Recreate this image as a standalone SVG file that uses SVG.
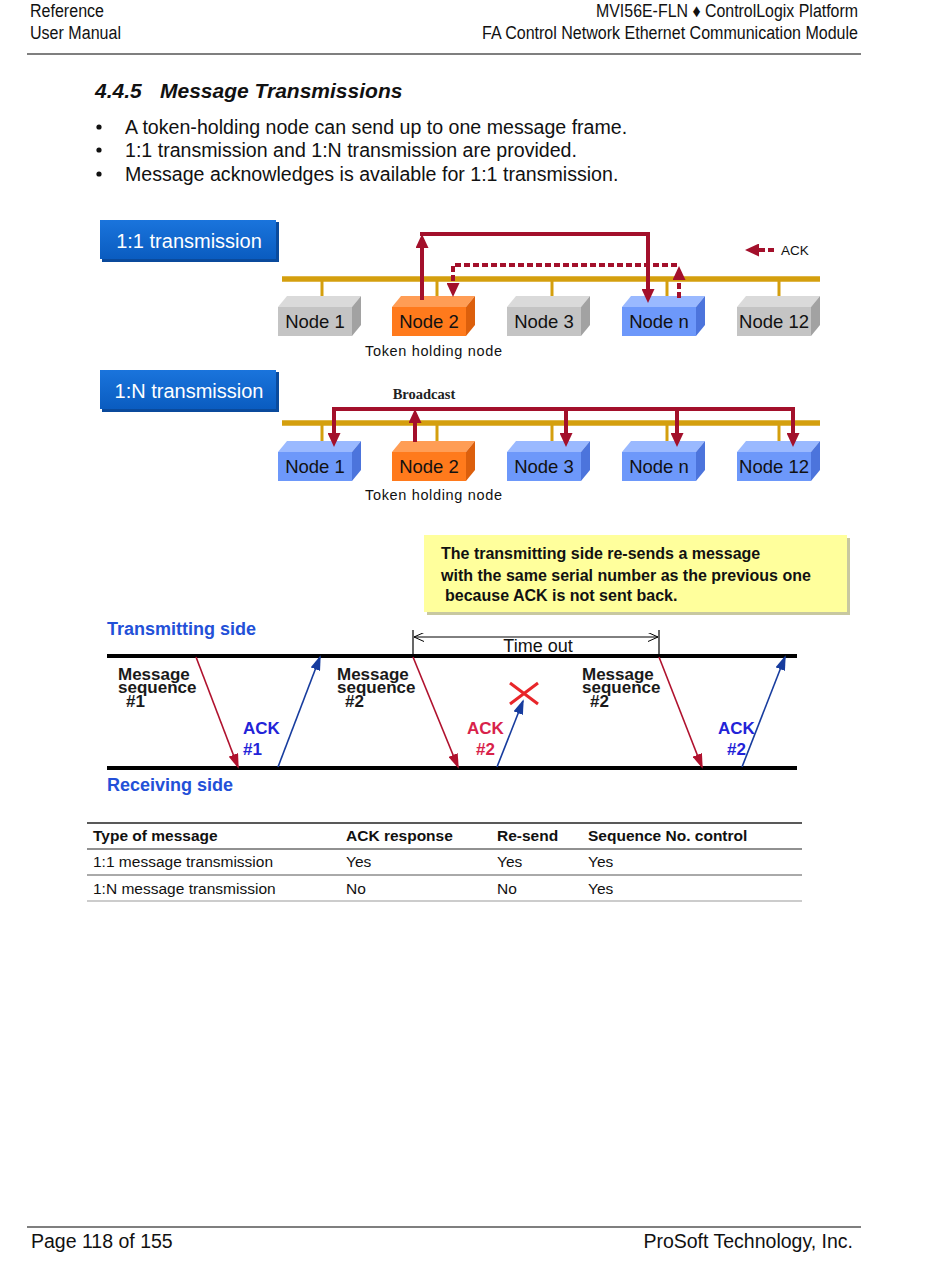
<svg xmlns="http://www.w3.org/2000/svg" width="950" height="1267" viewBox="0 0 950 1267">
<style>
.hdr{font-family:"Liberation Sans",Arial,sans-serif;font-size:18px;fill:#111}
.body{font-family:"Liberation Sans",Arial,sans-serif;fill:#111}
.title{font-size:21px;font-weight:bold;font-style:italic}
.bullet{font-size:19.6px}
.tag{font-family:"Liberation Sans",Arial,sans-serif;font-size:20px;fill:#fff}
.nodetxt{font-family:"Liberation Sans",Arial,sans-serif;font-size:18.5px;fill:#111;text-anchor:middle}
.small{font-family:"Liberation Sans",Arial,sans-serif;font-size:14.5px;fill:#111}
.bus{stroke:#d49f0e;stroke-width:5.5;fill:none}
.stub{stroke:#d49f0e;stroke-width:3;fill:none}
.red{stroke:#a3102b;stroke-width:4;fill:none}
.reddot{stroke:#a3102b;stroke-width:4;fill:none;stroke-dasharray:6 3}
.gF{fill:#c4c4c4}.gT{fill:#dadada}.gS{fill:#a2a2a2}
.oF{fill:#ff7a1c}.oT{fill:#ff9d55}.oS{fill:#dc5f0c}
.bF{fill:#6d98fa}.bT{fill:#9ab9ff}.bS{fill:#4c74dc}
.lbl{font-family:"Liberation Sans",Arial,sans-serif;font-weight:bold;font-size:17px}
.side{font-family:"Liberation Sans",Arial,sans-serif;font-weight:bold;font-size:18px;fill:#2350d8}
.tl{stroke:#000;stroke-width:4}
.tr{stroke:#b0122e;stroke-width:1.6;fill:none}
.tb{stroke:#173c9e;stroke-width:1.6;fill:none}
.th{font-family:"Liberation Sans",Arial,sans-serif;font-weight:bold;font-size:15.5px;fill:#111}
.td{font-family:"Liberation Sans",Arial,sans-serif;font-size:15.5px;fill:#111}
</style>
<defs>
<marker id="ahRed" markerUnits="userSpaceOnUse" markerWidth="14" markerHeight="13" refX="8" refY="6.5" orient="auto"><path d="M0,0 L14,6.5 L0,13 z" fill="#a3102b"/></marker>
<marker id="ahThinRed" markerUnits="userSpaceOnUse" markerWidth="15" markerHeight="10" refX="13" refY="5" orient="auto"><path d="M0,0 L15,5 L0,10 z" fill="#b0122e"/></marker>
<marker id="ahThinBlue" markerUnits="userSpaceOnUse" markerWidth="15" markerHeight="10" refX="13" refY="5" orient="auto"><path d="M0,0 L15,5 L0,10 z" fill="#173c9e"/></marker>
<marker id="ahOpen" markerUnits="userSpaceOnUse" markerWidth="11" markerHeight="9" refX="10" refY="4.5" orient="auto-start-reverse"><path d="M0,0 L10,4.5 L0,9" fill="none" stroke="#000" stroke-width="1"/></marker>
<linearGradient id="tagGrad" x1="0" y1="0" x2="0" y2="1"><stop offset="0" stop-color="#1a74dc"/><stop offset="1" stop-color="#0a5cc0"/></linearGradient>
</defs>

<!-- page header -->
<g id="header">
<text class="hdr" x="30" y="17" textLength="74" lengthAdjust="spacingAndGlyphs">Reference</text>
<text class="hdr" x="30" y="39" textLength="91" lengthAdjust="spacingAndGlyphs">User Manual</text>
<text class="hdr" x="596" y="17" textLength="262" lengthAdjust="spacingAndGlyphs">MVI56E-FLN ♦ ControlLogix Platform</text>
<text class="hdr" x="482" y="39" textLength="376" lengthAdjust="spacingAndGlyphs">FA Control Network Ethernet Communication Module</text>
<line x1="27" y1="54" x2="861" y2="54" stroke="#000" stroke-width="1.2"/>
</g>

<g id="intro" class="body">
<text class="title" x="95" y="98">4.4.5</text>
<text class="title" x="160" y="98">Message Transmissions</text>
<circle cx="99" cy="127" r="2.6" fill="#111"/>
<circle cx="99" cy="150" r="2.6" fill="#111"/>
<circle cx="99" cy="174" r="2.6" fill="#111"/>
<text class="bullet" x="125" y="134">A token-holding node can send up to one message frame.</text>
<text class="bullet" x="125" y="157">1:1 transmission and 1:N transmission are provided.</text>
<text class="bullet" x="125" y="181">Message acknowledges is available for 1:1 transmission.</text>
</g>

<!-- 1:1 transmission -->
<g id="tag11">
<rect x="102" y="222" width="177" height="40" fill="#0a4a9c"/>
<rect x="100" y="220" width="176" height="39" fill="url(#tagGrad)"/>
<text class="tag" x="189" y="248" text-anchor="middle">1:1 transmission</text>
</g>

<g id="bus11">
<line class="bus" x1="282" y1="279" x2="820" y2="279"/>
<line class="stub" x1="322" y1="279" x2="322" y2="299"/>
<line class="stub" x1="437" y1="279" x2="437" y2="299"/>
<line class="stub" x1="552" y1="279" x2="552" y2="299"/>
<line class="stub" x1="667" y1="279" x2="667" y2="299"/>
<line class="stub" x1="779" y1="279" x2="779" y2="299"/>
</g>

<g id="n11-1"><polygon class="gT" points="278,307 287,296 361,296 352,307"/><polygon class="gS" points="352,307 361,296 361,325 352,336"/><rect class="gF" x="278" y="307" width="74" height="29"/><text class="nodetxt" x="315" y="328">Node 1</text></g>
<g id="n11-2"><polygon class="oT" points="392,307 401,296 475,296 466,307"/><polygon class="oS" points="466,307 475,296 475,325 466,336"/><rect class="oF" x="392" y="307" width="74" height="29"/><text class="nodetxt" x="429" y="328">Node 2</text></g>
<g id="n11-3"><polygon class="gT" points="507,307 516,296 590,296 581,307"/><polygon class="gS" points="581,307 590,296 590,325 581,336"/><rect class="gF" x="507" y="307" width="74" height="29"/><text class="nodetxt" x="544" y="328">Node 3</text></g>
<g id="n11-n"><polygon class="bT" points="622,307 631,296 705,296 696,307"/><polygon class="bS" points="696,307 705,296 705,325 696,336"/><rect class="bF" x="622" y="307" width="74" height="29"/><text class="nodetxt" x="659" y="328">Node n</text></g>
<g id="n11-12"><polygon class="gT" points="737,307 746,296 820,296 811,307"/><polygon class="gS" points="811,307 820,296 820,325 811,336"/><rect class="gF" x="737" y="307" width="74" height="29"/><text class="nodetxt" x="774" y="328">Node 12</text></g>

<text id="token11" class="small" x="365" y="356" textLength="137">Token holding node</text>

<g id="conn11">
<line class="red" x1="422" y1="300" x2="422" y2="240" marker-end="url(#ahRed)"/>
<path class="red" d="M420,234 H648 V297" marker-end="url(#ahRed)"/>
<line class="reddot" x1="679" y1="298" x2="679" y2="272" marker-end="url(#ahRed)"/>
<path class="reddot" d="M677,265 H453 V291" marker-end="url(#ahRed)"/>
</g>

<g id="acklegend">
<line class="reddot" x1="774" y1="250" x2="751" y2="250" marker-end="url(#ahRed)"/>
<text class="small" x="781" y="255" style="font-size:13.5px">ACK</text>
</g>

<!-- 1:N transmission -->
<g id="tag1n">
<rect x="102" y="372" width="177" height="40" fill="#0a4a9c"/>
<rect x="100" y="370" width="176" height="39" fill="url(#tagGrad)"/>
<text class="tag" x="189" y="398" text-anchor="middle">1:N transmission</text>
</g>

<text id="bcast" x="424" y="399" text-anchor="middle" style="font-family:'Liberation Serif','Times New Roman',serif;font-weight:bold;font-size:14.5px;fill:#222">Broadcast</text>

<g id="bus1n">
<line class="bus" x1="282" y1="423" x2="820" y2="423"/>
<line class="stub" x1="322" y1="423" x2="322" y2="444"/>
<line class="stub" x1="437" y1="423" x2="437" y2="444"/>
<line class="stub" x1="552" y1="423" x2="552" y2="444"/>
<line class="stub" x1="667" y1="423" x2="667" y2="444"/>
<line class="stub" x1="779" y1="423" x2="779" y2="444"/>
</g>

<g id="n1n-1"><polygon class="bT" points="278,452 287,441 361,441 352,452"/><polygon class="bS" points="352,452 361,441 361,470 352,481"/><rect class="bF" x="278" y="452" width="74" height="29"/><text class="nodetxt" x="315" y="473">Node 1</text></g>
<g id="n1n-2"><polygon class="oT" points="392,452 401,441 475,441 466,452"/><polygon class="oS" points="466,452 475,441 475,470 466,481"/><rect class="oF" x="392" y="452" width="74" height="29"/><text class="nodetxt" x="429" y="473">Node 2</text></g>
<g id="n1n-3"><polygon class="bT" points="507,452 516,441 590,441 581,452"/><polygon class="bS" points="581,452 590,441 590,470 581,481"/><rect class="bF" x="507" y="452" width="74" height="29"/><text class="nodetxt" x="544" y="473">Node 3</text></g>
<g id="n1n-n"><polygon class="bT" points="622,452 631,441 705,441 696,452"/><polygon class="bS" points="696,452 705,441 705,470 696,481"/><rect class="bF" x="622" y="452" width="74" height="29"/><text class="nodetxt" x="659" y="473">Node n</text></g>
<g id="n1n-12"><polygon class="bT" points="737,452 746,441 820,441 811,452"/><polygon class="bS" points="811,452 820,441 820,470 811,481"/><rect class="bF" x="737" y="452" width="74" height="29"/><text class="nodetxt" x="774" y="473">Node 12</text></g>

<text id="token1n" class="small" x="365" y="500" textLength="137">Token holding node</text>

<g id="conn1n">
<line class="red" x1="415" y1="442" x2="415" y2="415" marker-end="url(#ahRed)"/>
<path class="red" d="M334,441 V409 H793 V441" marker-end="url(#ahRed)"/>
<line class="red" x1="334" y1="420" x2="334" y2="441" marker-end="url(#ahRed)"/>
<line class="red" x1="566" y1="409" x2="566" y2="441" marker-end="url(#ahRed)"/>
<line class="red" x1="677" y1="409" x2="677" y2="441" marker-end="url(#ahRed)"/>
</g>

<!-- timing diagram -->
<g id="note">
<rect x="427" y="538" width="423" height="77" fill="#c8c8a0"/>
<rect x="424" y="535" width="423" height="77" fill="#ffff9c"/>
<g class="lbl" style="font-size:16px;fill:#111">
<text x="441" y="559">The transmitting side re-sends a message</text>
<text x="441" y="581">with the same serial number as the previous one</text>
<text x="445" y="601">because ACK is not sent back.</text>
</g>
</g>

<text class="side" x="107" y="635">Transmitting side</text>
<text class="side" x="107" y="791">Receiving side</text>

<g id="timeline">
<line class="tl" x1="107" y1="656" x2="797" y2="656"/>
<line class="tl" x1="107" y1="768" x2="797" y2="768"/>
<line x1="413" y1="630" x2="413" y2="656" stroke="#000" stroke-width="1.2"/>
<line x1="659" y1="630" x2="659" y2="656" stroke="#000" stroke-width="1.2"/>
<line x1="414" y1="637" x2="658" y2="637" stroke="#000" stroke-width="1" marker-start="url(#ahOpen)" marker-end="url(#ahOpen)"/>
<text x="538" y="652" text-anchor="middle" style="font-family:'Liberation Sans',Arial,sans-serif;font-size:18px;fill:#111">Time out</text>
</g>

<g id="msgs">
<line class="tr" x1="196" y1="657" x2="238" y2="767" marker-end="url(#ahThinRed)"/>
<line class="tb" x1="278" y1="767" x2="320" y2="657" marker-end="url(#ahThinBlue)"/>
<line class="tr" x1="413" y1="657" x2="458" y2="767" marker-end="url(#ahThinRed)"/>
<line class="tb" x1="497" y1="767" x2="523" y2="701" marker-end="url(#ahThinBlue)"/>
<line class="tr" x1="659" y1="657" x2="702" y2="767" marker-end="url(#ahThinRed)"/>
<line class="tb" x1="742" y1="767" x2="785" y2="657" marker-end="url(#ahThinBlue)"/>
<path d="M510,683 L538,704 M510,704 L538,683" stroke="#e8262a" stroke-width="3" fill="none"/>
</g>

<g id="msglabels" class="lbl" style="fill:#1a1a1a">
<text x="118" y="680">Message</text><text x="118" y="693">sequence</text><text x="126" y="707">#1</text>
<text x="337" y="680">Message</text><text x="337" y="693">sequence</text><text x="345" y="707">#2</text>
<text x="582" y="680">Message</text><text x="582" y="693">sequence</text><text x="590" y="707">#2</text>
</g>
<g id="acklabels" class="lbl">
<text x="243" y="734" fill="#2323d8">ACK</text><text x="243" y="755" fill="#2323d8">#1</text>
<text x="467" y="734" fill="#d8224a">ACK</text><text x="476" y="755" fill="#d8224a">#2</text>
<text x="718" y="734" fill="#2323d8">ACK</text><text x="727" y="755" fill="#2323d8">#2</text>
</g>

<!-- table -->
<g id="table">
<line x1="87" y1="823" x2="802" y2="823" stroke="#222" stroke-width="1.3"/>
<line x1="87" y1="849" x2="802" y2="849" stroke="#222" stroke-width="1"/>
<line x1="87" y1="875" x2="802" y2="875" stroke="#555" stroke-width="1"/>
<line x1="87" y1="901" x2="802" y2="901" stroke="#999" stroke-width="1"/>
<text class="th" x="93" y="841">Type of message</text>
<text class="th" x="346" y="841">ACK response</text>
<text class="th" x="497" y="841">Re-send</text>
<text class="th" x="588" y="841">Sequence No. control</text>
<text class="td" x="93" y="867">1:1 message transmission</text>
<text class="td" x="346" y="867">Yes</text>
<text class="td" x="497" y="867">Yes</text>
<text class="td" x="588" y="867">Yes</text>
<text class="td" x="93" y="894">1:N message transmission</text>
<text class="td" x="346" y="894">No</text>
<text class="td" x="497" y="894">No</text>
<text class="td" x="588" y="894">Yes</text>
</g>

<!-- footer -->
<g id="footer">
<line x1="27" y1="1227" x2="861" y2="1227" stroke="#000" stroke-width="1.2"/>
<text class="body" x="31" y="1248" style="font-size:19.5px">Page 118 of 155</text>
<text class="body" x="853" y="1248" text-anchor="end" style="font-size:19.5px">ProSoft Technology, Inc.</text>
</g>
</svg>
